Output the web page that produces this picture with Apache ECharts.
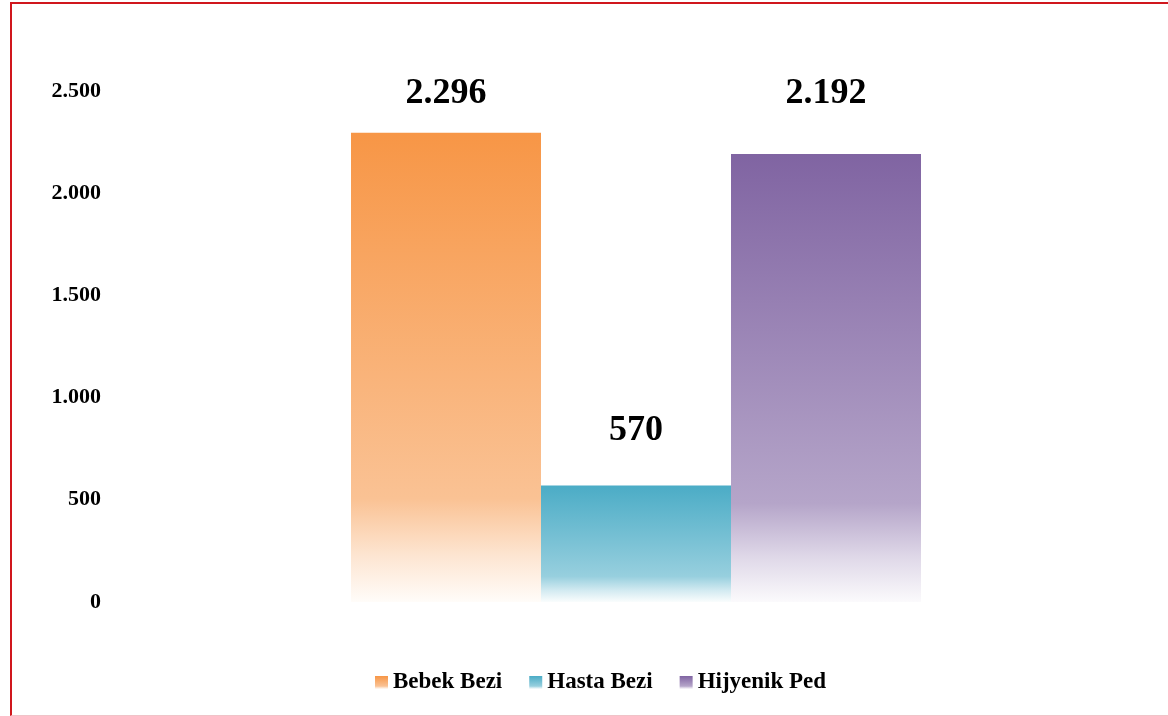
<!DOCTYPE html>
<html>
<head>
<meta charset="utf-8">
<script src="https://cdn.jsdelivr.net/npm/echarts@6/dist/echarts.min.js"></script>
<style>
html,body{margin:0;padding:0;background:#fff;overflow:hidden;}
#frame{position:absolute;left:10px;top:2px;width:1200px;height:711px;border-top:2px solid #d0171d;border-left:2px solid #d0171d;border-bottom:1px solid #f0c3c8;}
#chart{position:absolute;left:0;top:0;width:1168px;height:716px;}
</style>
</head>
<body>
<div id="frame"></div>
<div id="chart"></div>
<script>
const categories = [''];
const seriesNames = ['Bebek Bezi', 'Hasta Bezi', 'Hijyenik Ped'];
const seriesValues = [[2296], [570], [2192]];
const yTicks = [0, 500, 1000, 1500, 2000, 2500];

const baseColors = ['#F79646', '#4BACC6', '#8064A2'];
const labelDistances = [21, 37, 42];

function mix(hex, t) {
  const r = parseInt(hex.slice(1,3),16), g = parseInt(hex.slice(3,5),16), b = parseInt(hex.slice(5,7),16);
  const f = c => Math.round(c + (255 - c) * t);
  return 'rgb(' + f(r) + ',' + f(g) + ',' + f(b) + ')';
}
function grad(hex) {
  return new echarts.graphic.LinearGradient(0, 0, 0, 1, [
    {offset: 0, color: hex},
    {offset: 0.78, color: mix(hex, 0.42)},
    {offset: 0.9, color: mix(hex, 0.75)},
    {offset: 1, color: mix(hex, 0.97)}
  ]);
}
const fmt = v => String(v).replace(/\B(?=(\d{3})+(?!\d))/g, '.');
const serif = "'Liberation Serif', 'Times New Roman', serif";

const chart = echarts.init(document.getElementById('chart'), null, {renderer: 'canvas'});
chart.setOption({
  animation: false,
  backgroundColor: 'transparent',
  grid: {left: 115, right: 11, top: 91, bottom: 114, containLabel: false},
  legend: {
    left: 370, top: 666,
    itemWidth: 13, itemHeight: 13, itemGap: 27,
    icon: 'rect',
    textStyle: {fontFamily: serif, fontWeight: 'bold', fontSize: 23, color: '#000'},
    data: seriesNames
  },
  xAxis: {
    type: 'category', data: categories,
    axisLine: {show: false}, axisTick: {show: false}, axisLabel: {show: false}, splitLine: {show: false}
  },
  yAxis: {
    type: 'value', min: yTicks[0], max: yTicks[yTicks.length - 1], interval: 500,
    axisLine: {show: false}, axisTick: {show: false}, splitLine: {show: false},
    axisLabel: {margin: 14, formatter: fmt, fontFamily: serif, fontWeight: 'bold', fontSize: 22, color: '#000'}
  },
  series: seriesNames.map((name, i) => ({
    name: name,
    type: 'bar',
    data: seriesValues[i],
    barWidth: 190,
    barGap: '0%',
    itemStyle: {color: grad(baseColors[i])},
    label: {
      show: true, position: 'top', distance: labelDistances[i],
      formatter: p => fmt(p.value),
      fontFamily: serif, fontWeight: 'bold', fontSize: 36, color: '#000'
    }
  }))
});
</script>
</body>
</html>
